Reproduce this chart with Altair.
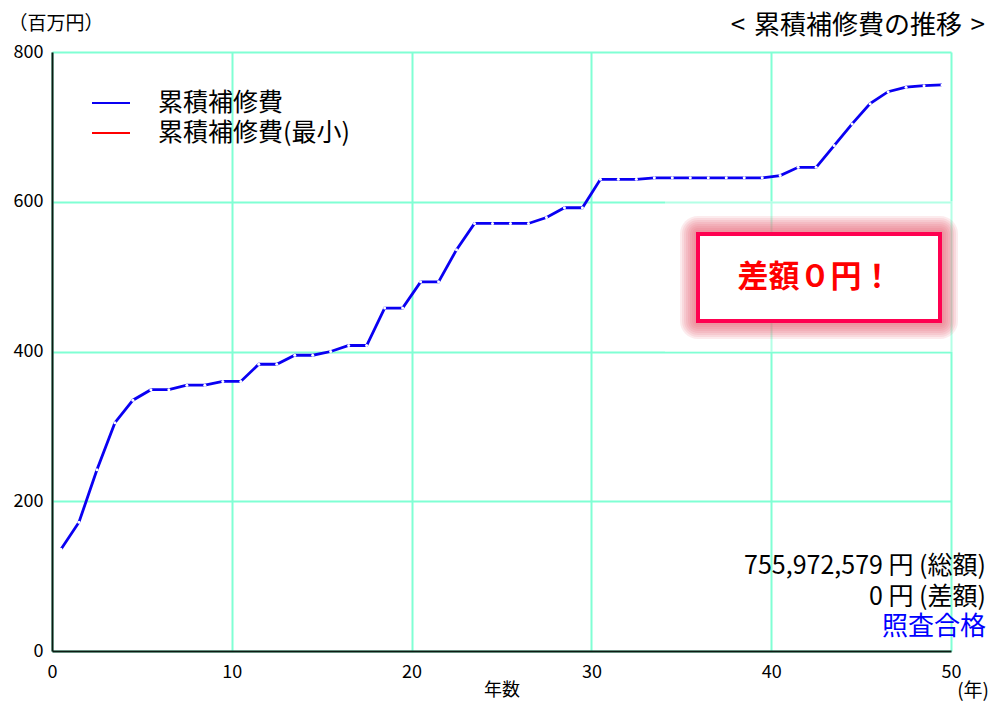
import altair as alt
import pandas as pd

# Cumulative repair cost per year (millions of yen)
years = list(range(1, 51))
total_yen = 755972579
diff_yen = 0
cumulative = [136, 172, 242, 305, 335, 349, 349, 355, 355, 360,
              360, 383, 383, 395, 395, 400, 408, 408, 458, 458,
              493, 493, 536, 571, 571, 571, 571, 579, 592, 592,
              630, 630, 630, 632, 632, 632, 632, 632, 632, 632,
              635, 646, 646, 675, 704, 731, 747, 753, 755] + [total_yen / 1e6]
minimum = [v - diff_yen / 1e6 for v in cumulative]

series_names = ["累積補修費", "累積補修費(最小)"]
series_colors = ["#0a00f2", "#ff0000"]
x_ticks = [0, 10, 20, 30, 40, 50]
y_ticks = [0, 200, 400, 600, 800]

FONT = "Noto Sans CJK JP"
GRID = "#80ffd4"

df = pd.DataFrame({"year": years, "main": cumulative, "minimum": minimum})

base = alt.Chart(df).transform_calculate(pos="datum.year - 0.5")

x_enc = alt.X(
    "pos:Q",
    scale=alt.Scale(domain=[0, 50], nice=False, zero=False),
    axis=alt.Axis(values=x_ticks, title="年数", grid=True, gridColor=GRID, gridWidth=2,
                  domainColor="#0c1a12", domainWidth=2, ticks=False, labelFlush=False,
                  labelFont=FONT, labelFontSize=18, labelColor="#000", labelPadding=12,
                  titleFont=FONT, titleFontSize=18, titleFontWeight="normal",
                  titleColor="#000", titlePadding=0),
)
y_axis = alt.Axis(values=y_ticks, title="（百万円）", grid=True, gridColor=GRID, gridWidth=2,
                  domainColor="#0c1a12", domainWidth=2, ticks=False, labelFlush=False,
                  labelFont=FONT, labelFontSize=18, labelColor="#000", labelPadding=9,
                  titleFont=FONT, titleFontSize=19, titleFontWeight="normal", titleColor="#000",
                  titleAngle=0, titleAlign="left", titleBaseline="middle", titleX=-44, titleY=-29)
y_scale = alt.Scale(domain=[0, 800], nice=False)

red_line = base.mark_line(color=series_colors[1], strokeWidth=1).encode(
    x=x_enc, y=alt.Y("minimum:Q", scale=y_scale, axis=y_axis))
blue_line = base.mark_line(color=series_colors[0], strokeWidth=2.8).encode(
    x=x_enc, y=alt.Y("main:Q", scale=y_scale, axis=y_axis))
# small breaks at each yearly vertex
breaks = base.mark_point(filled=True, color="white", opacity=1, size=9, strokeWidth=0).encode(
    x=x_enc, y=alt.Y("main:Q", scale=y_scale, axis=y_axis))


def one(text):
    return alt.Chart(pd.DataFrame({"t": [text]}))


# light haze behind the callout
haze = one("").mark_rect(color="white", opacity=0.4).encode(
    x=alt.value(613), x2=alt.value(940), y=alt.value(149), y2=alt.value(300))

# soft glow around the callout box
glow = []
for k in range(1, 10):
    e = 2 * k
    glow.append(one("").mark_rect(color="#e6606e", opacity=0.125, cornerRadius=e).encode(
        x=alt.value(646 - e), x2=alt.value(888 + e), y=alt.value(182 - e), y2=alt.value(269 + e)))

box = one("").mark_rect(fill="white", stroke="#ff0050", strokeWidth=4).encode(
    x=alt.value(646), x2=alt.value(888), y=alt.value(182), y2=alt.value(269))
box_text = one(f"差額{diff_yen:,}円！".translate(str.maketrans("0123456789", "０１２３４５６７８９"))).mark_text(
    font=FONT, fontSize=31, fontWeight="bold", color="#ff0000", align="center", baseline="middle").encode(
    x=alt.value(763), y=alt.value(226), text="t:N")

# legend
legend_layers = []
for i, (name, col) in enumerate(zip(series_names, series_colors)):
    yy = 51 + 30 * i
    legend_layers.append(one(name).mark_rule(color=col, strokeWidth=2).encode(
        x=alt.value(40), x2=alt.value(78), y=alt.value(yy)))
    legend_layers.append(one(name).mark_text(
        font=FONT, fontSize=25, color="#000", align="left", baseline="middle").encode(
        x=alt.value(106), y=alt.value(yy), text="t:N"))

title = one("<\u2004累積補修費の推移\u2004>").mark_text(
    font=FONT, fontSize=26, color="#000", align="right", baseline="middle").encode(
    x=alt.value(933), y=alt.value(-26), text="t:N")

unit_x = one("(年)").mark_text(
    font=FONT, fontSize=19, color="#000", align="right", baseline="middle").encode(
    x=alt.value(937), y=alt.value(639), text="t:N")

notes = [
    (f"{total_yen:,} 円 (総額)", "#000", 514),
    (f"{diff_yen:,} 円 (差額)", "#000", 545),
    ("照査合格", "#0000ff", 575),
]
note_layers = [
    one(t).mark_text(font=FONT, fontSize=25 if c == "#000" else 26, color=c,
                     align="right", baseline="middle").encode(
        x=alt.value(934), y=alt.value(yy), text="t:N")
    for t, c, yy in notes
]

chart = alt.layer(
    red_line, blue_line, breaks, haze, *glow, box, box_text,
    *legend_layers, title, unit_x, *note_layers,
).properties(
    width=899, height=599,
    padding={"left": 52, "top": 52, "right": 41, "bottom": 53},
    autosize=alt.AutoSizeParams(type="none"),
    background="white",
).configure_view(strokeWidth=0)

chart.save("out.html", embed_options={"renderer": "svg", "actions": False})
